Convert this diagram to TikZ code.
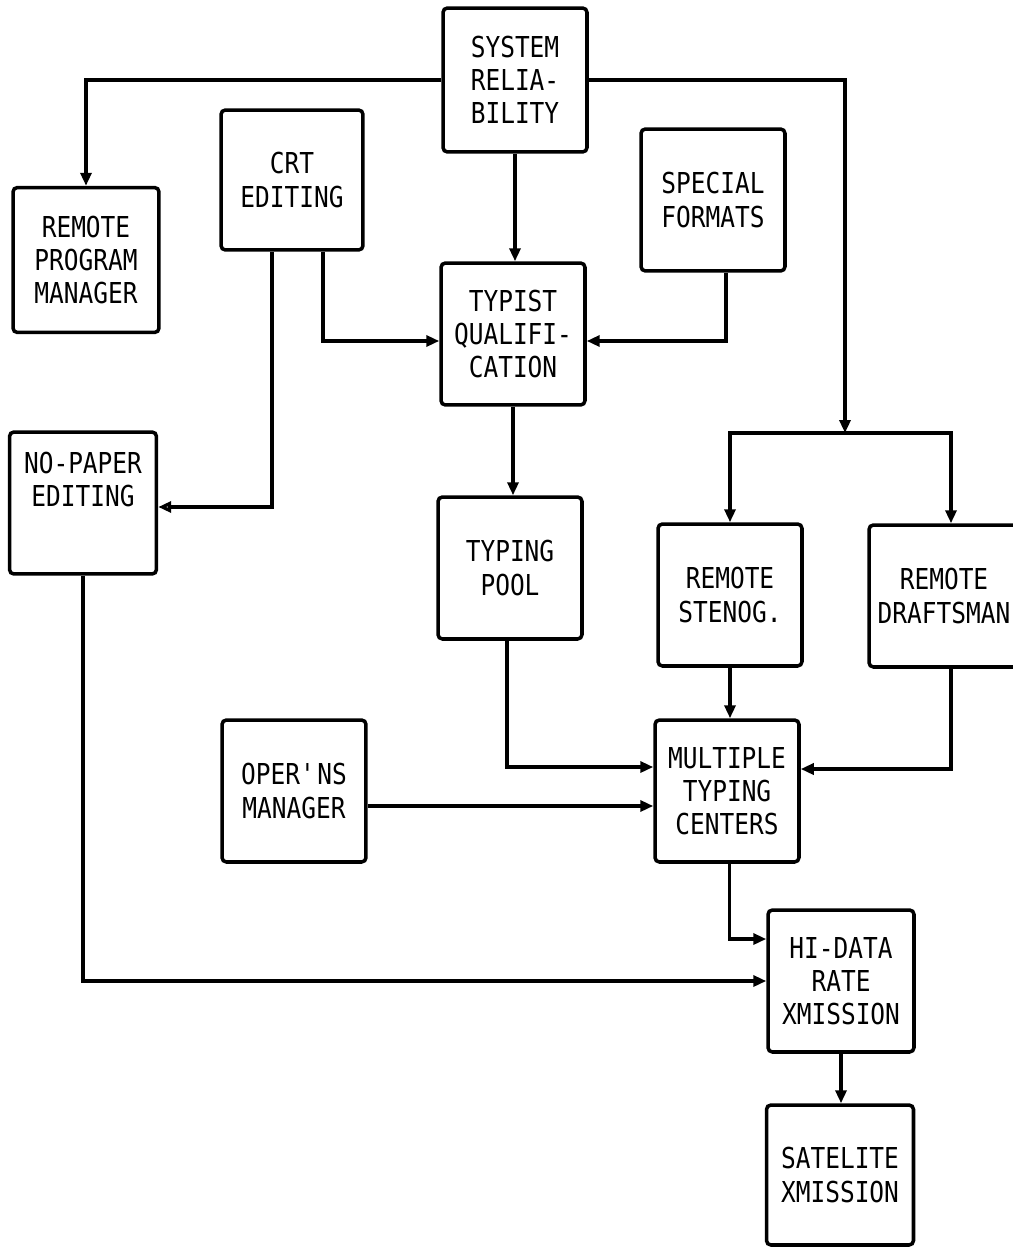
\documentclass[tikz,border=0pt]{standalone}
\usepackage{fontspec}
\usepackage{tikz}
\usetikzlibrary{arrows.meta, positioning, calc}
\newfontfamily\typefont[FakeStretch=0.85]{DejaVu Sans Mono}
\tikzset{
	blk/.style ={rectangle, draw=black, line width=2pt, rounded corners=2.5pt, minimum width=2.88cm, minimum height=2.84cm, align=center, inner sep=1pt},
	sig/.style ={-{Triangle[length=2.6mm, width=2.2mm]}, line width=2pt},
	sigo/.style={-{Triangle[open, length=2.6mm, width=2.2mm]}, line width=2pt},
}

\begin{document}
\begin{tikzpicture}[font=\typefont\fontsize{16.4pt}{18.8pt}\selectfont, x=0.02cm, y=-0.02cm]
	\useasboundingbox (0,0) rectangle (1012,1247);
	% upper blocks
	\node[blk, minimum height=2.88cm] (sysrel) at (515,80) {SYSTEM\\RELIA-\\BILITY};
	\node[blk, minimum width=2.84cm, minimum height=2.8cm] (crt) at (292,180) {CRT\\EDITING};
	\node[blk] (spec) at (713,200) {SPECIAL\\FORMATS};
	\node[blk, minimum width=2.92cm, minimum height=2.9cm] (rpm) at (86,260) {REMOTE\\PROGRAM\\MANAGER};
	\node[blk] (typq) at (513,334) {TYPIST\\QUALIFI-\\CATION};
	\node[blk, minimum width=2.94cm] (nopap) at (83,503) {NO-PAPER\\EDITING\\[8pt]};
	% middle blocks
	\node[blk] (pool) at (510,568) {TYPING\\POOL};
	\node[blk] (steno) at (730,595) {REMOTE\\STENOG.};
	\node[blk, minimum width=3cm] (draft) at (944,596) {REMOTE\\DRAFTSMAN};
	\node[blk] (opers) at (294,791) {OPER\textquotesingle NS\\MANAGER};
	\node[blk] (multi) at (727,791) {MULTIPLE\\TYPING\\CENTERS};
	% lower blocks
	\node[blk, minimum width=2.92cm] (hidat) at (841,981) {HI-DATA\\RATE\\XMISSION};
	\node[blk, minimum width=2.94cm, minimum height=2.8cm] (satx) at (840,1175) {SATELITE\\XMISSION};
	\coordinate (split) at (845,433);
	% connectors
	\draw[sig] (sysrel.west) -| (rpm.north);
	\draw[sig] (sysrel.east) -| (split);
	\draw[sig] (split) -| (steno.north);
	\draw[sig] (split) -| ([xshift=0.14cm]draft.north);
	\draw[sig] (sysrel.south) -- (sysrel.south |- typq.north);
	\draw[sig] ([xshift=0.62cm]crt.south) |- ([yshift=-0.14cm]typq.west);
	\draw[sig] ([xshift=0.26cm]spec.south) |- ([yshift=-0.14cm]typq.east);
	\draw[sigo] ([xshift=-0.4cm]crt.south) |- ([yshift=-0.08cm]nopap.east);
	\draw[sig] (typq.south) -- (typq.south |- pool.north);
	\draw[sig] ([xshift=-0.06cm]pool.south) |- ([yshift=0.48cm]multi.west);
	\draw[sig] (steno.south) -- (steno.south |- multi.north);
	\draw[sig] ([xshift=0.14cm]draft.south) |- ([yshift=0.44cm]multi.east);
	\draw[sig] ([yshift=-0.3cm]opers.east) -- ([yshift=-0.3cm]multi.west);
	\draw[sig] ([xshift=0.05cm]multi.south) |- ([yshift=0.84cm]hidat.west);
	\draw[sig] (nopap.south) |- (hidat.west);
	\draw[sig] (hidat.south) -- (hidat.south |- satx.north);
\end{tikzpicture}
\end{document}
